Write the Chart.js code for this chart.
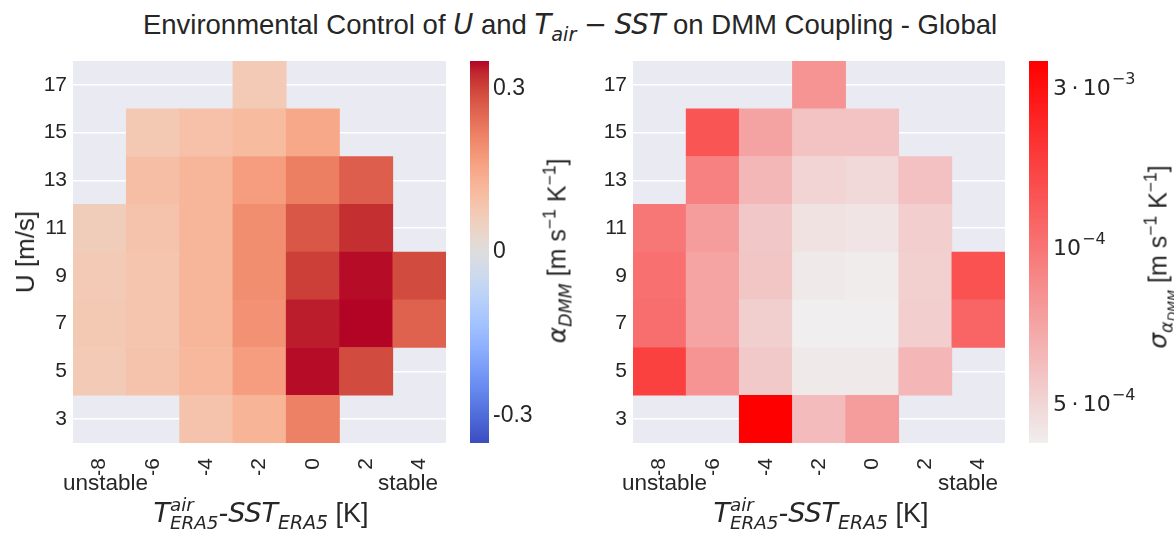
<!DOCTYPE html>
<html>
<head>
<meta charset="utf-8">
<script src="https://cdn.jsdelivr.net/npm/chart.js@4.4.0/dist/chart.umd.min.js"></script>
<style>
body { margin:0; background:#fff; }
#wrap { position:relative; width:1174px; height:537px; overflow:hidden; font-family:"Liberation Sans", Arial, sans-serif; color:#262626; }
.box { position:absolute; top:0; height:475px; }
.txt { position:absolute; white-space:nowrap; line-height:1; }
.c { transform:translate(-50%,-50%); }
.rot { transform:translate(-50%,-50%) rotate(-90deg); }
.m { font-family:"DejaVu Sans", sans-serif; font-style:italic; }
.up, .dn { font-size:70%; position:relative; line-height:0; }
.up { top:-0.6em; }
.dn { top:0.35em; }
.ss { display:inline-flex; flex-direction:column; font-size:68%; line-height:1; vertical-align:0.62em; }
</style>
</head>
<body>
<div id="wrap">
  <div class="txt c" style="left:570px; top:25px; font-size:27.5px;">Environmental Control of <span class="m">U</span> and <span class="m">T<span class="dn">air</span></span> <span style="font-family:'DejaVu Sans'">−</span> <span class="m">SST</span> on DMM Coupling - Global</div>

  <div class="box" style="left:0; width:452px;"><canvas id="alphaMap"></canvas></div>
  <div class="box" style="left:465px; width:80px;"><canvas id="alphaBar"></canvas></div>
  <div class="box" style="left:560px; width:451px;"><canvas id="sigmaMap"></canvas></div>
  <div class="box" style="left:1024px; width:120px;"><canvas id="sigmaBar"></canvas></div>

  <div class="txt rot" style="left:25px; top:252px; font-size:26px;">U [m/s]</div>

  <div class="txt" style="left:63px; top:472px; font-size:22.5px;">unstable</div>
  <div class="txt" style="left:378px; top:472px; font-size:22.5px;">stable</div>
  <div class="txt" style="left:622px; top:472px; font-size:22.5px;">unstable</div>
  <div class="txt" style="left:938px; top:472px; font-size:22.5px;">stable</div>

  <div class="txt c" style="left:261px; top:514px; font-size:27px;"><span class="m">T<span class="ss"><span>air</span><span>ERA5</span></span>-SST<span class="dn">ERA5</span></span> [K]</div>
  <div class="txt c" style="left:821px; top:514px; font-size:27px;"><span class="m">T<span class="ss"><span>air</span><span>ERA5</span></span>-SST<span class="dn">ERA5</span></span> [K]</div>

  <div class="txt rot" style="left:557px; top:251px; font-size:25px;"><span class="m">α<span class="dn">DMM</span></span> [m s<span class="up">−1</span> K<span class="up">−1</span>]</div>
  <div class="txt rot" style="left:1158px; top:257px; font-size:25px;"><span class="m">σ<span class="dn">α<span style="font-size:72%; position:relative; top:0.3em">DMM</span></span></span> [m s<span class="up">−1</span> K<span class="up">−1</span>]</div>
</div>

<script>
// categories
const xLabels = ['-8', '-6', '-4', '-2', '0', '2', '4'];
const uRows = [3, 5, 7, 9, 11, 13, 15, 17];
const yTicks = [3, 5, 7, 9, 11, 13, 15, 17];

// alpha_DMM [m s-1 K-1], one array per U row, columns -8 .. 4
const alphaU3  = [null, null, 0.09, 0.125, 0.215, null, null];
const alphaU5  = [0.07, 0.09, 0.115, 0.17, 0.345, 0.29, null];
const alphaU7  = [0.075, 0.085, 0.12, 0.19, 0.335, 0.35, 0.26];
const alphaU9  = [0.07, 0.085, 0.12, 0.195, 0.305, 0.345, 0.29];
const alphaU11 = [0.062, 0.09, 0.12, 0.195, 0.275, 0.32, null];
const alphaU13 = [null, 0.10, 0.12, 0.17, 0.22, 0.265, null];
const alphaU15 = [null, 0.075, 0.095, 0.11, 0.15, null, null];
const alphaU17 = [null, null, null, 0.07, null, null, null];

// sigma of alpha_DMM [m s-1 K-1]
const sigmaU3  = [null, null, 3.6e-3, 0.603e-3, 0.752e-3, null, null];
const sigmaU5  = [1.77e-3, 0.80e-3, 0.544e-3, 0.432e-3, 0.432e-3, 0.623e-3, null];
const sigmaU7  = [1.074e-3, 0.714e-3, 0.522e-3, 0.418e-3, 0.418e-3, 0.526e-3, 1.19e-3];
const sigmaU9  = [1.045e-3, 0.714e-3, 0.558e-3, 0.432e-3, 0.425e-3, 0.518e-3, 1.47e-3];
const sigmaU11 = [0.977e-3, 0.752e-3, 0.553e-3, 0.455e-3, 0.448e-3, 0.526e-3, null];
const sigmaU13 = [null, 0.91e-3, 0.618e-3, 0.505e-3, 0.487e-3, 0.578e-3, null];
const sigmaU15 = [null, 1.40e-3, 0.72e-3, 0.573e-3, 0.568e-3, null, null];
const sigmaU17 = [null, null, null, 0.80e-3, null, null, null];

// colorbar ticks
const alphaTicks = [-0.3, 0, 0.3];
const sigmaTicks = [5e-4, 1e-3, 3e-3];
const sigmaTickBase = ['5\u2009·\u200910', '10', '3\u2009·\u200910'];
const sigmaTickExp = ['−4', '−4', '−3'];

const alphaRows = [alphaU3, alphaU5, alphaU7, alphaU9, alphaU11, alphaU13, alphaU15, alphaU17];
const sigmaRows = [sigmaU3, sigmaU5, sigmaU7, sigmaU9, sigmaU11, sigmaU13, sigmaU15, sigmaU17];

const FONT = 'Liberation Sans';
const INK = '#262626';
const ALPHA_LIM = 0.35;

// coolwarm colormap
const coolwarm = [[59,76,192],[68,90,204],[77,104,215],[87,117,225],[98,130,234],[108,142,241],[119,154,247],[130,165,251],[141,176,254],[152,185,255],[163,194,255],[174,201,253],[184,208,249],[194,213,244],[204,217,238],[213,219,230],[221,221,221],[229,216,209],[236,211,197],[241,204,184],[245,196,172],[247,187,160],[247,177,148],[247,166,135],[244,154,123],[241,141,111],[236,127,99],[229,112,88],[222,96,77],[213,80,66],[203,62,56],[192,40,47],[180,4,38]];

function rgb(c) { return 'rgb(' + c.map(Math.round).join(',') + ')'; }

function coolwarmAt(t) {
  t = Math.min(1, Math.max(0, t));
  const f = t * (coolwarm.length - 1);
  const i = Math.min(coolwarm.length - 2, Math.floor(f));
  const k = f - i;
  return rgb(coolwarm[i].map((v, j) => v + (coolwarm[i + 1][j] - v) * k));
}

function alphaColor(v) { return coolwarmAt((v + ALPHA_LIM) / (2 * ALPHA_LIM)); }

// colour norm of the sigma colorbar (piecewise log)
const normVals = [4.18e-4, 5e-4, 1e-3, 3e-3, 3.58e-3];
const normLevels = [0, 0.105, 0.513, 0.932, 1];
function sigmaNorm(v) {
  const l = Math.log10(v);
  if (l <= Math.log10(normVals[0])) return 0;
  for (let i = 0; i < normVals.length - 1; i++) {
    const a = Math.log10(normVals[i]), b = Math.log10(normVals[i + 1]);
    if (l <= b) return normLevels[i] + (l - a) / (b - a) * (normLevels[i + 1] - normLevels[i]);
  }
  return 1;
}
const lightCol = [240, 238, 238], redCol = [255, 0, 0];
function redsAt(t) { return rgb(lightCol.map((v, j) => v + (redCol[j] - v) * t)); }
function sigmaColor(v) { return redsAt(sigmaNorm(v)); }

function heatDatasets(rows, colorOf) {
  return uRows.map((u, i) => ({
    data: rows[i].map(v => v == null ? null : [u - 1, u + 1]),
    backgroundColor: rows[i].map(v => v == null ? 'rgba(0,0,0,0)' : colorOf(v)),
    borderWidth: 0,
    barPercentage: 1,
    categoryPercentage: 1,
    grouped: false
  }));
}

const bgPlugin = {
  id: 'bg',
  beforeDraw(c) {
    const a = c.chartArea, ctx = c.ctx;
    ctx.save();
    ctx.fillStyle = '#EAEAF2';
    ctx.fillRect(a.left, a.top, a.right - a.left, a.bottom - a.top);
    ctx.restore();
  }
};

function heatmap(id, rows, colorOf) {
  new Chart(document.getElementById(id), {
    type: 'bar',
    data: { labels: xLabels, datasets: heatDatasets(rows, colorOf) },
    options: {
      responsive: true,
      maintainAspectRatio: false,
      animation: false,
      layout: { padding: { top: 61, right: 5, left: 0, bottom: 0 } },
      plugins: { legend: { display: false }, tooltip: { enabled: false } },
      scales: {
        x: {
          grid: { display: false },
          border: { display: false },
          ticks: { minRotation: 90, maxRotation: 90, padding: 7, color: INK, font: { family: FONT, size: 21 } },
          afterFit: s => { s.height = 32; }
        },
        y: {
          min: 2, max: 18,
          grid: { color: '#ffffff', lineWidth: 1.5, drawTicks: false },
          border: { display: false },
          ticks: { padding: 6, color: INK, font: { family: FONT, size: 21 } },
          afterBuildTicks: s => { s.ticks = yTicks.map(v => ({ value: v })); },
          afterFit: s => { s.width = 73; }
        }
      }
    },
    plugins: [bgPlugin]
  });
}

function colorbar(id, width, yOpts, paint, extra) {
  const plugins = [{
    id: 'cbar',
    beforeDatasetsDraw(c) {
      const a = c.chartArea, ctx = c.ctx;
      ctx.save();
      ctx.fillStyle = paint(ctx, c.scales.y, a);
      ctx.fillRect(a.left, a.top, a.right - a.left, a.bottom - a.top);
      ctx.restore();
    }
  }];
  if (extra) plugins.push(extra);
  new Chart(document.getElementById(id), {
    type: 'scatter',
    data: { datasets: [] },
    options: {
      responsive: true,
      maintainAspectRatio: false,
      animation: false,
      layout: { padding: { top: 61, left: 5, right: 0, bottom: 32 } },
      plugins: { legend: { display: false }, tooltip: { enabled: false } },
      scales: {
        x: { display: false, min: 0, max: 1 },
        y: Object.assign({
          position: 'right',
          grid: { display: false, drawTicks: false },
          border: { display: false },
          afterFit: s => { s.width = width; }
        }, yOpts)
      }
    },
    plugins: plugins
  });
}

heatmap('alphaMap', alphaRows, alphaColor);
heatmap('sigmaMap', sigmaRows, sigmaColor);

colorbar('alphaBar', 56, {
  min: -ALPHA_LIM, max: ALPHA_LIM,
  ticks: { padding: 4, color: INK, font: { family: FONT, size: 23 }, callback: v => String(v) },
  afterBuildTicks: s => { s.ticks = alphaTicks.map(v => ({ value: v })); }
}, (ctx, y) => {
  const g = ctx.createLinearGradient(0, y.getPixelForValue(-ALPHA_LIM), 0, y.getPixelForValue(ALPHA_LIM));
  coolwarm.forEach((c, i) => g.addColorStop(i / (coolwarm.length - 1), rgb(c)));
  return g;
});

// sigma ticks drawn as 'a·10^b' with a raised exponent, at the scale's tick pixels
const sigmaLabels = {
  id: 'sigmaLabels',
  afterDraw(c) {
    const ctx = c.ctx, y = c.scales.y, a = c.chartArea;
    const size = 22;
    ctx.save();
    ctx.fillStyle = INK;
    ctx.textBaseline = 'middle';
    ctx.textAlign = 'left';
    sigmaTicks.forEach((v, i) => {
      const py = y.getPixelForValue(sigmaNorm(v));
      let px = a.right + 5;
      ctx.font = size + 'px "DejaVu Sans"';
      ctx.fillText(sigmaTickBase[i], px, py + 2);
      px += ctx.measureText(sigmaTickBase[i]).width + 1;
      ctx.font = Math.round(size * 0.72) + 'px "DejaVu Sans"';
      ctx.fillText(sigmaTickExp[i], px, py - 7);
    });
    ctx.restore();
  }
};

colorbar('sigmaBar', 96, {
  min: 0, max: 1,
  ticks: { display: false },
  afterBuildTicks: s => { s.ticks = sigmaTicks.map(v => ({ value: sigmaNorm(v) })); }
}, (ctx, y) => {
  const g = ctx.createLinearGradient(0, y.getPixelForValue(0), 0, y.getPixelForValue(1));
  g.addColorStop(0, redsAt(0));
  g.addColorStop(1, redsAt(1));
  return g;
}, sigmaLabels);
</script>
</body>
</html>
